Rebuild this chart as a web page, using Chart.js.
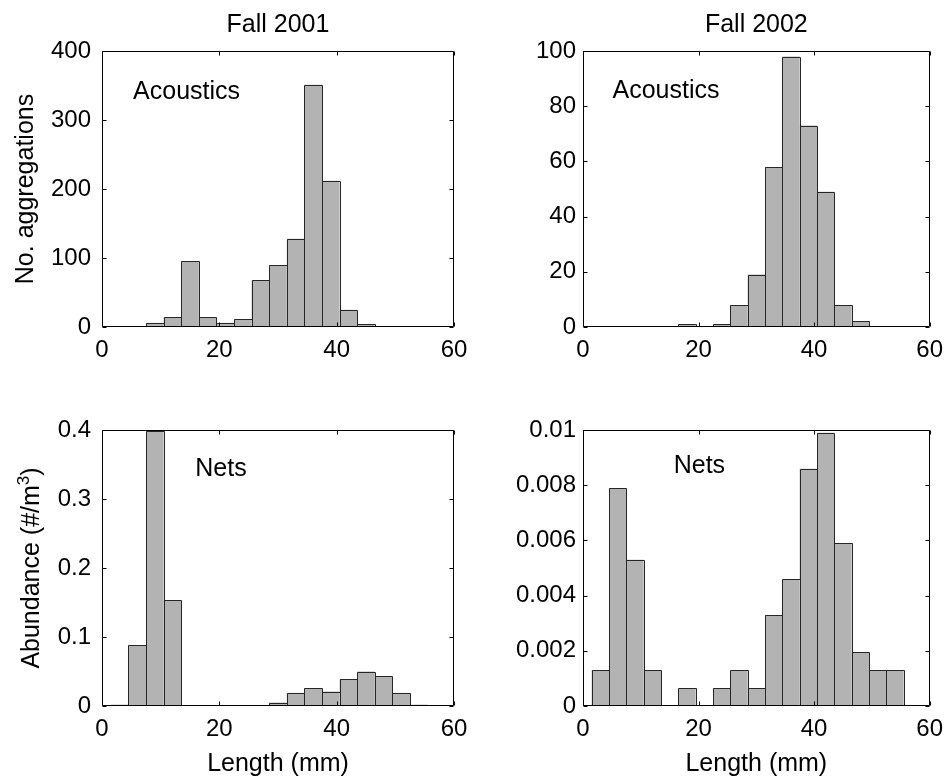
<!DOCTYPE html>
<html>
<head>
<meta charset="utf-8">
<script src="https://cdn.jsdelivr.net/npm/chart.js@4/dist/chart.umd.min.js"></script>
<style>
  html, body { margin: 0; padding: 0; background: #fff; }
  #wrap { position: relative; width: 952px; height: 778px; overflow: hidden; }
  #wrap canvas { position: absolute; left: 0; top: 0; }
</style>
</head>
<body>
<div id="wrap">
  <canvas id="acou2001" width="952" height="778"></canvas>
  <canvas id="acou2002" width="952" height="778"></canvas>
  <canvas id="nets2001" width="952" height="778"></canvas>
  <canvas id="nets2002" width="952" height="778"></canvas>
</div>
<script>
// Length bin centres (mm), 3 mm wide bins
const lengthBins = [3, 6, 9, 12, 15, 18, 21, 24, 27, 30, 33, 36, 39, 42, 45, 48, 51, 54, 57];

// Acoustic aggregation counts per length bin
const acoustics2001 = [0, 0, 6, 14, 95, 14, 6, 11, 68, 90, 128, 351, 212, 25, 4, 0, 0, 0, 0];
const acoustics2002 = [0, 0, 0, 0, 0, 1, 0, 1, 8, 19, 58, 98, 73, 49, 8, 2, 0, 0, 0];

// Net abundance (#/m^3) per length bin
const nets2001 = [0.002, 0.088, 0.398, 0.153, 0, 0, 0, 0, 0, 0.005, 0.019, 0.026, 0.021, 0.039, 0.050, 0.0435, 0.019, 0.002, 0];
const nets2002 = [0.0013, 0.0079, 0.0053, 0.0013, 0, 0.00065, 0, 0.00065, 0.0013, 0.00065, 0.0033, 0.0046, 0.0086, 0.0099, 0.0059, 0.00195, 0.0013, 0.0013, 0];

// Tick labels
const xTicks = [0, 20, 40, 60];
const yTicksAcou2001 = [0, 100, 200, 300, 400];
const yTicksAcou2002 = [0, 20, 40, 60, 80, 100];
const yTicksNets2001 = [0, 0.1, 0.2, 0.3, 0.4];
const yTicksNets2002 = [0, 0.002, 0.004, 0.006, 0.008, 0.01];

const FONT = '"Liberation Sans", Arial, Helvetica, sans-serif';
const BAR_FILL = 'rgb(179,179,179)';
const BAR_EDGE = '#262626';

// Crisp 1px outlines for the histogram bars, snapped to whole pixels so shared edges coincide
const barOutline = {
  id: 'barOutline',
  afterDatasetsDraw(chart) {
    const ctx = chart.ctx;
    ctx.save();
    ctx.strokeStyle = BAR_EDGE;
    ctx.lineWidth = 1;
    chart.getDatasetMeta(0).data.forEach(el => {
      const p = el.getProps(['x', 'y', 'base', 'width'], true);
      const top = Math.round(p.y), base = Math.round(p.base);
      if (base - top < 1) return;
      const x0 = Math.round(p.x - p.width / 2), x1 = Math.round(p.x + p.width / 2);
      ctx.beginPath();
      ctx.moveTo(x0 + 0.5, base);
      ctx.lineTo(x0 + 0.5, top + 0.5);
      ctx.lineTo(x1 + 0.5, top + 0.5);
      ctx.lineTo(x1 + 0.5, base);
      ctx.stroke();
    });
    ctx.restore();
  }
};

// Box around each plot with inward tick marks on all four sides, plus panel texts
const panelDecor = {
  id: 'panelDecor',
  afterDraw(chart, args, o) {
    const { ctx, chartArea: a, scales: { x, y } } = chart;
    const L = Math.round(a.left) + 0.5, R = Math.round(a.right) - 0.5;
    const T = Math.round(a.top) + 0.5, B = Math.round(a.bottom) - 0.5;
    const tl = 4;
    ctx.save();
    ctx.strokeStyle = '#000';
    ctx.lineWidth = 1;
    ctx.beginPath();
    ctx.moveTo(L, T); ctx.lineTo(R, T); ctx.lineTo(R, B); ctx.lineTo(L, B); ctx.closePath();
    x.ticks.forEach(t => {
      const px = Math.round(x.getPixelForValue(t.value)) + 0.5;
      ctx.moveTo(px, B); ctx.lineTo(px, B - tl);
      ctx.moveTo(px, T); ctx.lineTo(px, T + tl);
    });
    y.ticks.forEach(t => {
      const py = Math.round(y.getPixelForValue(t.value)) + 0.5;
      ctx.moveTo(L, py); ctx.lineTo(L + tl, py);
      ctx.moveTo(R, py); ctx.lineTo(R - tl, py);
    });
    ctx.stroke();

    ctx.fillStyle = '#000';
    ctx.textBaseline = 'alphabetic';
    const cx = (a.left + a.right) / 2;
    const cy = (a.top + a.bottom) / 2;

    if (o.title) {
      ctx.font = '25px ' + FONT;
      ctx.textAlign = 'center';
      ctx.fillText(o.title, cx, a.top - 19.5);
    }
    if (o.xTitle) {
      ctx.font = '25px ' + FONT;
      ctx.textAlign = 'center';
      ctx.fillText(o.xTitle, cx, a.bottom + 65);
    }
    if (o.yTitle) {
      // segments: [text, size, rise]
      ctx.save();
      ctx.translate(a.left - o.yTitleOffset, cy);
      ctx.rotate(-Math.PI / 2);
      let total = 0;
      o.yTitle.forEach(s => { ctx.font = s[1] + 'px ' + FONT; total += ctx.measureText(s[0]).width; });
      let pos = -total / 2;
      ctx.textAlign = 'left';
      o.yTitle.forEach(s => {
        ctx.font = s[1] + 'px ' + FONT;
        ctx.fillText(s[0], pos, -s[2]);
        pos += ctx.measureText(s[0]).width;
      });
      ctx.restore();
    }
    if (o.note) {
      ctx.font = '25px ' + FONT;
      ctx.textAlign = 'left';
      ctx.fillText(o.note.text, x.getPixelForValue(o.note.x), y.getPixelForValue(o.note.y));
    }
    ctx.restore();
  }
};

function makePanel(id, values, yTicks, area, text) {
  const yW = 100, xH = 40;
  const points = lengthBins.map((c, i) => ({ x: c, y: values[i] }));
  new Chart(document.getElementById(id), {
    type: 'bar',
    data: {
      datasets: [{
        data: points,
        backgroundColor: BAR_FILL,
        borderWidth: 0,
        barPercentage: 1,
        categoryPercentage: 1,
        inflateAmount: 0
      }]
    },
    options: {
      responsive: false,
      devicePixelRatio: 1,
      animation: false,
      events: [],
      layout: {
        padding: {
          left: area.left - yW,
          right: 952 - area.right,
          top: area.top,
          bottom: 778 - area.bottom - xH
        }
      },
      plugins: {
        legend: { display: false },
        tooltip: { enabled: false },
        panelDecor: text
      },
      scales: {
        x: {
          type: 'linear',
          min: 0, max: 60,
          offset: false,
          grid: { display: false, drawTicks: false },
          border: { display: false },
          afterBuildTicks: s => { s.ticks = xTicks.map(v => ({ value: v })); },
          afterFit: s => { s.height = xH; },
          ticks: {
            autoSkip: false, maxRotation: 0, padding: 9,
            color: '#000', font: { family: FONT, size: 24 },
            callback: v => String(v)
          }
        },
        y: {
          min: yTicks[0], max: yTicks[yTicks.length - 1],
          grid: { display: false, drawTicks: false },
          border: { display: false },
          afterBuildTicks: s => { s.ticks = yTicks.map(v => ({ value: v })); },
          afterFit: s => { s.width = yW; },
          ticks: {
            autoSkip: false, padding: area.tickPad,
            color: '#000', font: { family: FONT, size: 24 },
            callback: v => String(v)
          }
        }
      }
    },
    plugins: [barOutline, panelDecor]
  });
}

makePanel('acou2001', acoustics2001, yTicksAcou2001,
  { left: 102, right: 454, top: 51, bottom: 327, tickPad: 11 },
  { title: 'Fall 2001', yTitle: [['No. aggregations', 25, 0]], yTitleOffset: 69,
    note: { text: 'Acoustics', x: 5.3, y: 331 } });

makePanel('acou2002', acoustics2002, yTicksAcou2002,
  { left: 583, right: 935, top: 51, bottom: 327, tickPad: 7 },
  { title: 'Fall 2002', note: { text: 'Acoustics', x: 5.1, y: 82.9 } });

makePanel('nets2001', nets2001, yTicksNets2001,
  { left: 102, right: 454, top: 430, bottom: 706, tickPad: 11 },
  { xTitle: 'Length (mm)',
    yTitle: [['Abundance (#/m', 25, 0], ['3', 17, 10], [')', 25, 0]], yTitleOffset: 63,
    note: { text: 'Nets', x: 15.9, y: 0.333 } });

makePanel('nets2002', nets2002, yTicksNets2002,
  { left: 583, right: 935, top: 430, bottom: 706, tickPad: 7 },
  { xTitle: 'Length (mm)', note: { text: 'Nets', x: 15.7, y: 0.00843 } });
</script>
</body>
</html>
